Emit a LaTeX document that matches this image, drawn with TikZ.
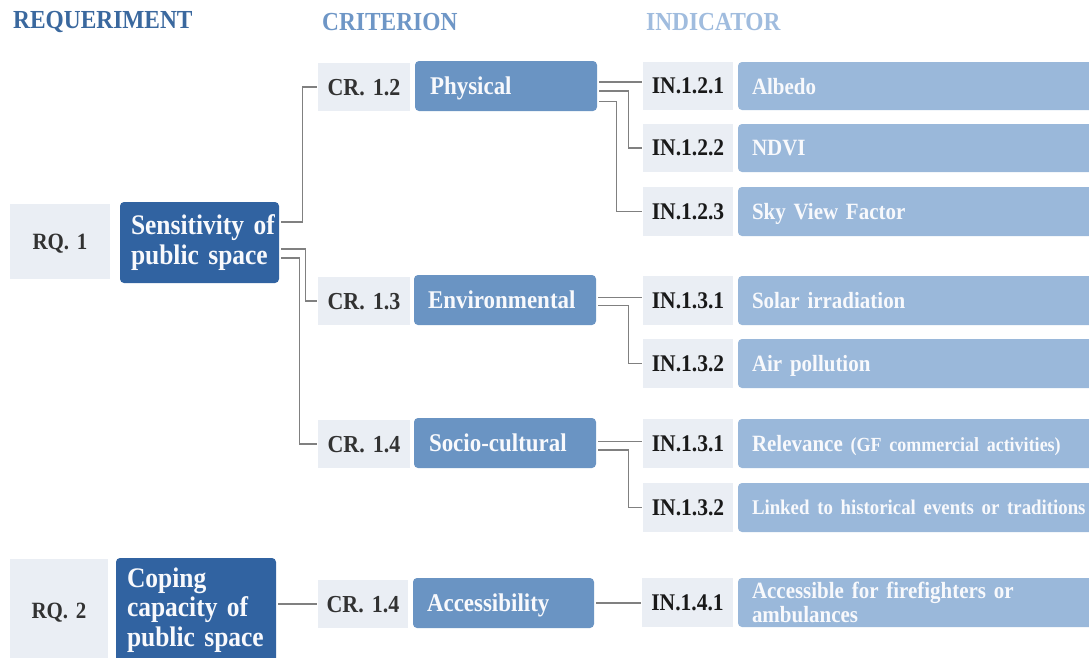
\documentclass[tikz,border=0pt]{standalone}
\usepackage{fontspec}
\setmainfont{Liberation Serif}[FakeStretch=0.9]
\definecolor{cDark}{RGB}{49,99,161}
\definecolor{cMid}{RGB}{106,148,195}
\definecolor{cLight}{RGB}{154,184,218}
\definecolor{cGray}{RGB}{234,238,244}
\definecolor{hReq}{RGB}{58,104,158}
\definecolor{hCrit}{RGB}{110,150,198}
\definecolor{hInd}{RGB}{160,188,222}
\definecolor{labTxt}{RGB}{50,50,50}
\definecolor{inTxt}{RGB}{25,25,25}
\definecolor{connCol}{RGB}{128,128,128}
\definecolor{boxTxt}{RGB}{248,249,252}

% box with corners (x1,y1)-(x2,y2), text padded by #2 on both sides
\newcommand\mkbox[8]{%
  \pgfmathsetmacro\bxh{#7-#5}%
  \pgfmathsetmacro\bxtw{#6-#4-2*#2}%
  \node[#1, inner xsep=#2pt, inner ysep=0pt, text width=\bxtw pt,
        minimum height=\bxh pt] (#3) at ({(#4+#6)/2},{(#5+#7)/2}) {#8};}

\begin{document}
\begin{tikzpicture}[x=1pt,y=-1pt,
  oneline/.style={text depth=0pt},
  hdr/.style={anchor=west, inner sep=0pt, font=\bfseries\fontsize{26}{28}\selectfont},
  graybox/.style={fill=cGray, align=center, oneline},
  rqlab/.style={graybox, text=labTxt, font=\bfseries\fontsize{23.3}{26}\selectfont},
  crlab/.style={graybox, text=labTxt, font=\bfseries\fontsize{24.4}{26}\selectfont},
  inlab/.style={graybox, text=inTxt, font=\bfseries\fontsize{23.9}{26}\selectfont},
  reqbox/.style={fill=cDark, rounded corners=4pt, align=left, text=boxTxt,
    font=\bfseries\fontsize{28.3}{29.5}\selectfont},
  critbox/.style={fill=cMid, rounded corners=4pt, align=left, text=boxTxt, oneline,
    font=\bfseries\fontsize{25.5}{28}\selectfont},
  indboxml/.style={fill=cLight, rounded corners=4pt, align=left, text=boxTxt,
    font=\bfseries\fontsize{23.3}{24}\selectfont},
  indbox/.style={indboxml, oneline},
  conn/.style={draw=connCol, line width=1.3pt, shorten <=2pt, shorten >=1pt}
]
\useasboundingbox (0,0) rectangle (1089,657);

% column headers
\node[hdr, text=hReq]  (hreq)  at (13,22)  {REQUERIMENT};
\node[hdr, text=hCrit] (hcrit) at (322,22) {CRITERION};
\node[hdr, text=hInd]  (hind)  at (646,22) {INDICATOR};

% requirements
\mkbox{rqlab}{0}{rq1}{10}{204}{110}{279}{RQ. 1}
\mkbox{reqbox}{11}{sens}{120}{202}{279}{283}{\mbox{Sensitivity of}\\\mbox{public space}}
\mkbox{rqlab}{0}{rq2}{10}{559}{108}{662}{RQ. 2}
\mkbox{reqbox}{11}{coping}{116}{558}{276}{662}{\mbox{Coping}\\\mbox{capacity of}\\\mbox{public space}}

% criteria
\mkbox{crlab}{0}{cr12}{318}{63}{410}{111}{CR. 1.2}
\mkbox{critbox}{15}{phys}{415}{61}{597}{111}{Physical}
\mkbox{crlab}{0}{cr13}{318}{277}{410}{325}{CR. 1.3}
\mkbox{critbox}{14}{env}{414}{275}{596}{325}{Environmental}
\mkbox{crlab}{0}{cr14a}{318}{420}{410}{468}{CR. 1.4}
\mkbox{critbox}{15}{soc}{414}{418}{596}{468}{Socio-cultural}
\mkbox{crlab}{0}{cr14b}{318}{580}{408}{628}{CR. 1.4}
\mkbox{critbox}{14}{acc}{413}{578}{594}{628}{Accessibility}

% indicators
\mkbox{inlab}{0}{in1}{643}{62}{733}{110}{IN.1.2.1}
\mkbox{indbox}{14}{ind1}{738}{62}{1110}{110}{Albedo}
\mkbox{inlab}{0}{in2}{643}{124}{733}{172}{IN.1.2.2}
\mkbox{indbox}{14}{ind2}{738}{124}{1110}{172}{NDVI}
\mkbox{inlab}{0}{in3}{643}{187}{733}{236}{IN.1.2.3}
\mkbox{indbox}{14}{ind3}{738}{187}{1110}{236}{Sky View Factor}
\mkbox{inlab}{0}{in4}{643}{276}{733}{325}{IN.1.3.1}
\mkbox{indbox}{14}{ind4}{738}{276}{1110}{325}{Solar irradiation}
\mkbox{inlab}{0}{in5}{643}{339}{733}{388}{IN.1.3.2}
\mkbox{indbox}{14}{ind5}{738}{339}{1110}{388}{Air pollution}
\mkbox{inlab}{0}{in6}{643}{419}{733}{468}{IN.1.3.1}
\mkbox{indbox}{14}{ind6}{738}{419}{1110}{468}{\mbox{Relevance {\fontsize{20}{22}\selectfont (GF commercial activities)}}}
\mkbox{inlab}{0}{in7}{643}{483}{733}{532}{IN.1.3.2}
\mkbox{indbox}{14}{ind7}{738}{483}{1110}{532}{\mbox{\fontsize{20.9}{22}\selectfont Linked to historical events or traditions}}
\mkbox{inlab}{0}{in8}{642}{578}{733}{627}{IN.1.4.1}
\mkbox{indboxml}{14}{ind8}{738}{578}{1110}{627}{\mbox{Accessible for firefighters or}\\\mbox{ambulances}}

% requirement -> criteria
\draw[conn] ([yshift=20.5pt]sens.east) -- ++(23,0) |- (cr12.west);
\draw[conn] ([yshift=-6.5pt]sens.east) -- ++(26,0) |- (cr13.west);
\draw[conn] ([yshift=-15.5pt]sens.east) -- ++(20,0) |- (cr14a.west);
\draw[conn] (cr14b.west -| coping.east) -- (cr14b.west);

% criteria -> indicators
\coordinate (pa) at ([yshift=4pt]phys.east);
\draw[conn] (pa) -- (pa -| in1.west);
\draw[conn] ([yshift=-5pt]phys.east) -- ++(31,0) |- (in2.west);
\draw[conn] ([yshift=-15.5pt]phys.east) -- ++(19,0) |- (in3.west);

\coordinate (ea) at ([yshift=2.3pt]env.east);
\draw[conn] (ea) -- (ea -| in4.west);
\draw[conn] ([yshift=-5.7pt]env.east) -- ++(32,0) |- (in5.west);

\coordinate (sa) at ([yshift=1.3pt]soc.east);
\draw[conn] (sa) -- (sa -| in6.west);
\draw[conn] ([yshift=-7pt]soc.east) -- ++(32,0) |- (in7.west);

\draw[conn] (acc.east) -- (acc.east -| in8.west);
\end{tikzpicture}
\end{document}
